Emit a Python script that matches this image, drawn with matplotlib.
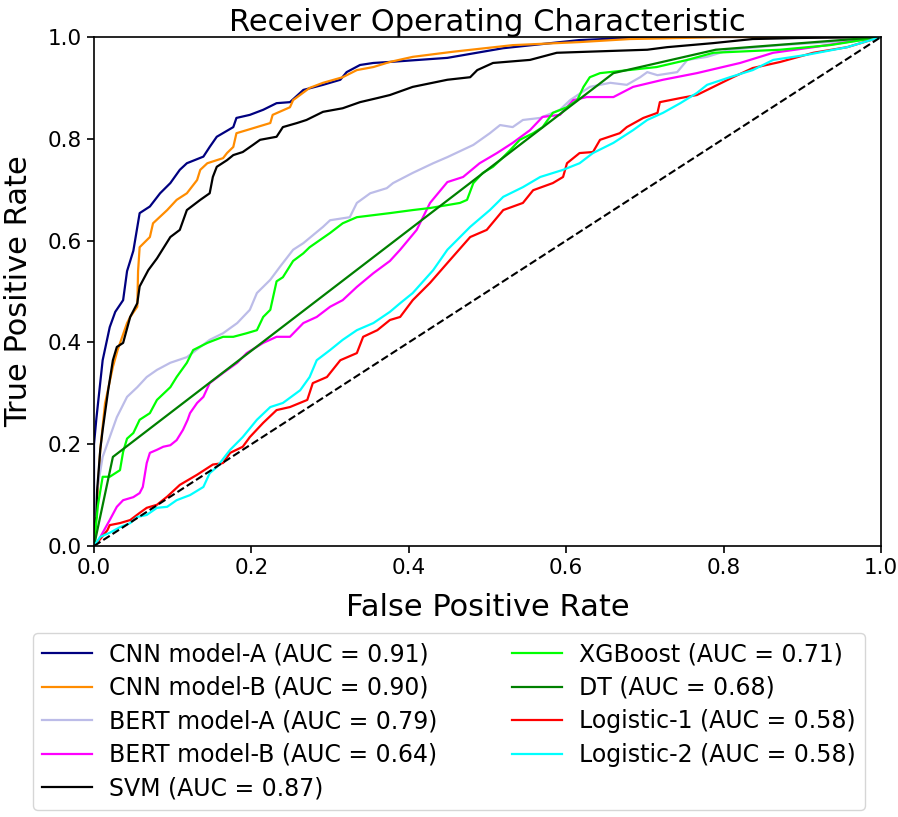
import numpy as np
import matplotlib.pyplot as plt

# ROC points
cnn_a_fpr = [0, 0.0, 0.003, 0.011, 0.020, 0.027, 0.037, 0.042, 0.050, 0.058, 0.071, 0.084, 0.097, 0.109, 0.118, 0.139,
             0.147, 0.156, 0.177, 0.181, 0.198, 0.215, 0.232, 0.249, 0.266, 0.291, 0.313, 0.321, 0.338, 0.355, 0.376,
             0.449, 0.52, 0.617, 0.71, 1.0]
cnn_a_tpr = [0, 0.20, 0.25, 0.365, 0.43, 0.46, 0.483, 0.54, 0.58, 0.654, 0.667, 0.693, 0.713, 0.739, 0.752, 0.765,
             0.784, 0.804, 0.823, 0.841, 0.847, 0.857, 0.870, 0.872, 0.896, 0.906, 0.916, 0.931, 0.945, 0.949, 0.951,
             0.959, 0.978, 0.994, 1.0, 1.0]

cnn_b_fpr = [0, 0.0, 0.003, 0.008, 0.014, 0.024, 0.030, 0.042, 0.046, 0.055, 0.056, 0.058, 0.071, 0.075, 0.093, 0.105,
             0.118, 0.131, 0.135, 0.144, 0.164, 0.169, 0.177, 0.181, 0.194, 0.224, 0.227, 0.249, 0.253, 0.274, 0.291,
             0.316, 0.334, 0.355, 0.376, 0.405, 0.456, 0.532, 0.617, 0.681, 0.745, 0.80, 1.0]
cnn_b_tpr = [0, 0.03, 0.065, 0.19, 0.28, 0.352, 0.385, 0.438, 0.45, 0.47, 0.54, 0.587, 0.607, 0.634, 0.66, 0.68,
             0.693, 0.719, 0.739, 0.752, 0.762, 0.772, 0.784, 0.811, 0.817, 0.831, 0.847, 0.862, 0.876, 0.90, 0.91,
             0.921, 0.935, 0.941, 0.951, 0.961, 0.971, 0.984, 0.990, 0.996, 0.998, 1.0, 1.0]

bert_a_fpr = [0, 0.004, 0.011, 0.020, 0.029, 0.042, 0.055, 0.067, 0.080, 0.097, 0.118, 0.135, 0.147, 0.164, 0.182,
              0.198, 0.207, 0.224, 0.236, 0.253, 0.266, 0.291, 0.300, 0.325, 0.334, 0.351, 0.372, 0.380, 0.405, 0.431,
              0.449, 0.482, 0.503, 0.516, 0.532, 0.545, 0.567, 0.592, 0.605, 0.630, 0.656, 0.677, 0.694, 0.703, 0.716,
              0.741, 0.754, 0.779, 0.808, 0.872, 0.935, 1.0]
bert_a_tpr = [0, 0.11, 0.175, 0.214, 0.253, 0.293, 0.312, 0.332, 0.346, 0.36, 0.371, 0.391, 0.405, 0.418, 0.438,
              0.464, 0.497, 0.523, 0.548, 0.582, 0.595, 0.627, 0.64, 0.646, 0.674, 0.693, 0.703, 0.713, 0.733, 0.752,
              0.764, 0.788, 0.811, 0.827, 0.823, 0.837, 0.841, 0.857, 0.876, 0.902, 0.91, 0.906, 0.921, 0.931, 0.925,
              0.931, 0.955, 0.961, 0.975, 0.984, 0.99, 1.0]

bert_b_fpr = [0, 0.004, 0.011, 0.020, 0.029, 0.037, 0.050, 0.058, 0.062, 0.067, 0.071, 0.080, 0.088, 0.097, 0.105,
              0.113, 0.119, 0.122, 0.131, 0.139, 0.147, 0.164, 0.182, 0.194, 0.215, 0.232, 0.249, 0.266, 0.283, 0.300,
              0.316, 0.334, 0.355, 0.376, 0.389, 0.410, 0.427, 0.449, 0.469, 0.490, 0.512, 0.532, 0.554, 0.570, 0.592,
              0.609, 0.626, 0.660, 0.685, 0.723, 0.766, 0.821, 0.863, 0.914, 0.957, 1.0]
bert_b_tpr = [0, 0.006, 0.026, 0.051, 0.077, 0.09, 0.096, 0.104, 0.116, 0.163, 0.183, 0.189, 0.195, 0.198, 0.208,
              0.228, 0.248, 0.261, 0.281, 0.293, 0.32, 0.34, 0.36, 0.379, 0.399, 0.411, 0.411, 0.438, 0.45, 0.47,
              0.483, 0.509, 0.536, 0.56, 0.582, 0.621, 0.674, 0.715, 0.725, 0.752, 0.772, 0.792, 0.817, 0.843, 0.847,
              0.876, 0.882, 0.882, 0.902, 0.916, 0.929, 0.949, 0.969, 0.98, 0.99, 1.0]

svm_fpr = [0, 0.0, 0.003, 0.004, 0.008, 0.011, 0.018, 0.024, 0.029, 0.037, 0.046, 0.055, 0.058, 0.069, 0.080, 0.097,
           0.109, 0.118, 0.135, 0.147, 0.151, 0.156, 0.169, 0.177, 0.189, 0.202, 0.211, 0.232, 0.240, 0.258, 0.270,
           0.291, 0.316, 0.338, 0.360, 0.376, 0.405, 0.449, 0.478, 0.487, 0.507, 0.554, 0.588, 0.626, 0.703, 0.728,
           0.787, 0.837, 0.893, 1.0]
svm_tpr = [0, 0.04, 0.057, 0.11, 0.19, 0.228, 0.306, 0.365, 0.391, 0.399, 0.45, 0.477, 0.51, 0.542, 0.565, 0.607,
           0.621, 0.66, 0.68, 0.693, 0.725, 0.745, 0.758, 0.768, 0.774, 0.788, 0.798, 0.804, 0.823, 0.831, 0.837,
           0.853, 0.86, 0.872, 0.88, 0.886, 0.902, 0.916, 0.921, 0.935, 0.949, 0.955, 0.969, 0.971, 0.975, 0.98,
           0.988, 0.996, 0.998, 1.0]

xgb_fpr = [0, 0.005, 0.011, 0.020, 0.033, 0.037, 0.042, 0.050, 0.058, 0.071, 0.080, 0.097, 0.105, 0.118, 0.126,
           0.144, 0.164, 0.177, 0.194, 0.207, 0.215, 0.224, 0.232, 0.240, 0.253, 0.266, 0.274, 0.300, 0.316, 0.334,
           0.355, 0.376, 0.405, 0.427, 0.465, 0.474, 0.482, 0.494, 0.507, 0.516, 0.529, 0.541, 0.558, 0.570, 0.583,
           0.601, 0.614, 0.622, 0.630, 0.643, 0.715, 0.754, 0.787, 0.872, 0.935, 1.0]
xgb_tpr = [0, 0.08, 0.136, 0.136, 0.149, 0.185, 0.211, 0.222, 0.248, 0.261, 0.287, 0.312, 0.332, 0.36, 0.385,
           0.399, 0.411, 0.411, 0.418, 0.424, 0.45, 0.464, 0.52, 0.528, 0.56, 0.575, 0.587, 0.615, 0.634, 0.646,
           0.65, 0.654, 0.66, 0.664, 0.674, 0.68, 0.713, 0.733, 0.745, 0.758, 0.778, 0.798, 0.811, 0.823, 0.851,
           0.862, 0.876, 0.902, 0.921, 0.929, 0.941, 0.955, 0.969, 0.975, 0.984, 1.0]

dt_fpr = [0, 0.024, 0.66, 0.79, 1.0]
dt_tpr = [0, 0.175, 0.929, 0.975, 1.0]

log1_fpr = [0, 0.004, 0.017, 0.020, 0.033, 0.046, 0.058, 0.067, 0.080, 0.093, 0.109, 0.131, 0.151, 0.164, 0.173,
            0.189, 0.198, 0.215, 0.232, 0.249, 0.271, 0.278, 0.296, 0.313, 0.334, 0.342, 0.360, 0.376, 0.389, 0.405,
            0.427, 0.449, 0.478, 0.499, 0.520, 0.545, 0.558, 0.583, 0.596, 0.601, 0.617, 0.634, 0.643, 0.668, 0.677,
            0.698, 0.716, 0.719, 0.745, 0.766, 0.787, 0.812, 0.837, 0.872, 0.914, 0.957, 1.0]
log1_tpr = [0, 0.006, 0.031, 0.041, 0.045, 0.051, 0.065, 0.075, 0.081, 0.097, 0.12, 0.14, 0.16, 0.163, 0.183,
            0.195, 0.214, 0.242, 0.267, 0.273, 0.287, 0.32, 0.332, 0.365, 0.379, 0.411, 0.424, 0.444, 0.45, 0.483,
            0.517, 0.556, 0.607, 0.621, 0.66, 0.674, 0.699, 0.713, 0.725, 0.752, 0.772, 0.774, 0.798, 0.811, 0.823,
            0.841, 0.851, 0.872, 0.88, 0.886, 0.902, 0.921, 0.939, 0.951, 0.969, 0.98, 1.0]

log2_fpr = [0, 0.008, 0.020, 0.033, 0.046, 0.055, 0.067, 0.080, 0.093, 0.105, 0.122, 0.139, 0.147, 0.156, 0.173,
            0.189, 0.207, 0.224, 0.240, 0.262, 0.274, 0.283, 0.300, 0.316, 0.334, 0.355, 0.376, 0.389, 0.405, 0.431,
            0.449, 0.478, 0.503, 0.520, 0.545, 0.567, 0.596, 0.617, 0.634, 0.660, 0.685, 0.703, 0.723, 0.745, 0.766,
            0.779, 0.808, 0.837, 0.863, 0.906, 0.957, 1.0]
log2_tpr = [0, 0.018, 0.026, 0.037, 0.045, 0.057, 0.061, 0.075, 0.077, 0.09, 0.10, 0.116, 0.143, 0.155, 0.189,
            0.214, 0.248, 0.273, 0.281, 0.306, 0.332, 0.365, 0.385, 0.405, 0.424, 0.438, 0.46, 0.477, 0.497, 0.542,
            0.582, 0.627, 0.66, 0.686, 0.705, 0.725, 0.739, 0.752, 0.772, 0.792, 0.817, 0.837, 0.851, 0.870, 0.890,
            0.906, 0.921, 0.935, 0.955, 0.965, 0.98, 1.0]

names = ["CNN model-A", "CNN model-B", "BERT model-A", "BERT model-B", "SVM",
         "XGBoost", "DT", "Logistic-1", "Logistic-2"]
aucs = [0.91, 0.90, 0.79, 0.64, 0.87, 0.71, 0.68, 0.58, 0.58]
colors = ["navy", "darkorange", "#bcbce8", "magenta", "black",
          "lime", "green", "red", "cyan"]
curves = [(cnn_a_fpr, cnn_a_tpr), (cnn_b_fpr, cnn_b_tpr), (bert_a_fpr, bert_a_tpr),
          (bert_b_fpr, bert_b_tpr), (svm_fpr, svm_tpr), (xgb_fpr, xgb_tpr),
          (dt_fpr, dt_tpr), (log1_fpr, log1_tpr), (log2_fpr, log2_tpr)]

fig = plt.figure(figsize=(8.98, 8.17), dpi=100)
ax = fig.add_axes([94 / 898, 1 - 546 / 817, 787 / 898, 509 / 817])

for (fpr, tpr), name, auc, c in zip(curves, names, aucs, colors):
    ax.plot(fpr, tpr, color=c, lw=1.6, label=f"{name} (AUC = {auc:.2f})")
ax.plot([0, 1], [0, 1], "k--", lw=1.5)

ax.set_xlim(0, 1)
ax.set_ylim(0, 1)
ax.set_title("Receiver Operating Characteristic", fontsize=22, pad=3)
ax.set_xlabel("False Positive Rate", fontsize=22, labelpad=11)
ax.set_ylabel("True Positive Rate", fontsize=22, labelpad=11)
ax.tick_params(labelsize=15.5, width=1.2, length=5)
for s in ax.spines.values():
    s.set_linewidth(1.2)

fig.legend(loc="upper left", bbox_to_anchor=(33 / 898, 1 - 633 / 817), ncol=2,
           fontsize=17, labelspacing=0.4, columnspacing=3.2, handlelength=2.1,
           handletextpad=0.7, borderaxespad=0)

fig.savefig("out.png", dpi=100)
